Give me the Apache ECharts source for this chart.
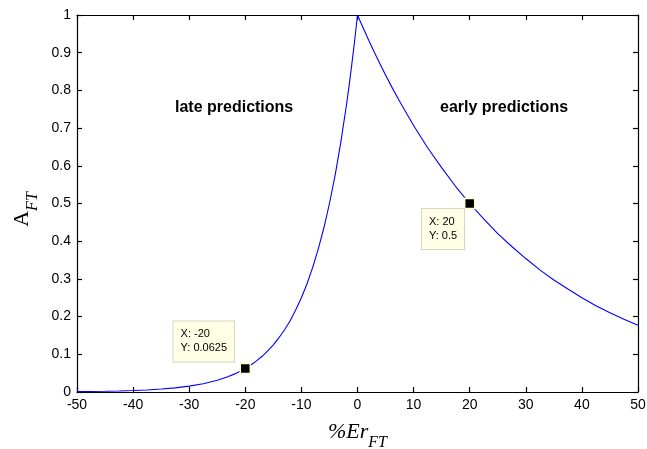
<!DOCTYPE html>
<html><head><meta charset="utf-8">
<script src="https://cdn.jsdelivr.net/npm/echarts@6/dist/echarts.min.js"></script>
<style>html,body{margin:0;padding:0;background:#fff}#c{width:647px;height:449px}</style>
</head><body><div id="c"></div>
<script>
const errX = [-50,-47.5,-45,-42.5,-40,-37.5,-35,-32.5,-30,-27.5,-25,-23,-22,-21,-20,-19,-18,-17,-16,-15,-14,-13,-12,-11,-10,-9,-8,-7,-6,-5,-4,-3,-2,-1.5,-1,-0.5,0,
  0.5,1,2,3,4,5,6,7.5,10,12.5,15,17.5,20,22.5,25,27.5,30,32.5,35,37.5,40,42.5,45,47.5,50];
const aFT = [0.001,0.0014,0.002,0.0028,0.0039,0.0055,0.0078,0.011,0.0156,0.0221,0.0313,0.0412,0.0474,0.0544,0.0625,0.0718,0.0825,0.0947,0.109,0.125,0.144,0.165,0.189,0.218,0.25,0.287,0.33,0.379,0.435,0.5,0.574,0.66,0.758,0.812,0.871,0.933,1,
  0.983,0.966,0.933,0.901,0.871,0.841,0.812,0.771,0.707,0.648,0.595,0.545,0.5,0.459,0.42,0.386,0.354,0.324,0.297,0.273,0.25,0.229,0.21,0.193,0.177];
const tipX = [-20, 20];
const tipY = [0.0625, 0.5];
const xTicks = [-50,-40,-30,-20,-10,0,10,20,30,40,50];
const yTicks = [0,0.1,0.2,0.3,0.4,0.5,0.6,0.7,0.8,0.9,1];
const regionLabels = ['late predictions', 'early predictions'];

const chart = echarts.init(document.getElementById('c'), null, {renderer:'canvas'});
const axisFont = {color:'#000', fontFamily:'Liberation Sans, Arial, sans-serif', fontSize:14};
const lineStyle = {color:'#000', width:1.2};
function baseX(show){ return {
  type:'value', min:-50, max:50, interval:10, position: show?'bottom':'top',
  axisLine:{show:true, onZero:false, lineStyle},
  axisTick:{show:true, inside:true, length:5, lineStyle},
  axisLabel:{show:show, ...axisFont, margin:6},
  splitLine:{show:false}
};}
function baseY(show){ return {
  type:'value', min:0, max:1, interval:0.1, position: show?'left':'right',
  axisLine:{show:true, onZero:false, lineStyle},
  axisTick:{show:true, inside:true, length:5, lineStyle},
  axisLabel:{show:show, ...axisFont, margin:6, formatter: v => String(+v.toFixed(1))},
  splitLine:{show:false}
};}
const serif = 'Liberation Serif, Times New Roman, serif';
const xMain = baseX(true);
xMain.name = '{i|%Er}{s|FT}';
xMain.nameLocation = 'middle';
xMain.nameGap = 22;
xMain.nameTextStyle = {rich:{
  i:{fontFamily:serif, fontStyle:'italic', fontSize:22, color:'#000'},
  s:{fontFamily:serif, fontStyle:'italic', fontSize:16, color:'#000', padding:[21,0,0,0]}
}};
const yMain = baseY(true);
yMain.name = '{a|A}{s|FT}';
yMain.nameLocation = 'middle';
yMain.nameGap = 36;
yMain.nameTextStyle = {padding:[0,12,0,0], rich:{
  a:{fontFamily:serif, fontSize:22, color:'#000'},
  s:{fontFamily:serif, fontStyle:'italic', fontSize:16, color:'#000', padding:[20,0,0,0]}
}};

const tipData = tipX.map((x,i)=>[x, tipY[i]]);
chart.setOption({
  animation:false,
  grid:{left:77, right:9, top:15, bottom:57, containLabel:false, outerBoundsMode:'none'},
  xAxis:[xMain, baseX(false)],
  yAxis:[yMain, baseY(false)],
  series:[
    {type:'line', data: errX.map((x,i)=>[x, aFT[i]]), showSymbol:false, symbol:'none',
     lineStyle:{color:'#0000ff', width:1.1}, z:2},
    {type:'scatter', data: tipData, symbol:'rect', symbolSize:10,
     itemStyle:{color:'#000', borderColor:'#ffffd0', borderWidth:1.5, opacity:1}, z:5,
     label:{show:true, formatter: p => 'X: ' + p.value[0] + '\nY: ' + p.value[1],
       fontFamily:'Liberation Sans, Arial, sans-serif', fontSize:11, color:'#000', lineHeight:14, align:'left',
       backgroundColor:'#ffffe6', borderColor:'#d6d6c4', borderWidth:1, padding:[6,7,6,7],
       position:'left', distance:0},
     labelLayout: p => p.dataIndex === 0 ? {dx:-66, dy:-27} : {dx:-42, dy:25.5}
    }
  ],
  graphic:[
    {type:'text', left:175, top:100, style:{text:regionLabels[0], font:'bold 16px Liberation Sans, Arial, sans-serif', fill:'#000'}},
    {type:'text', left:440, top:100, style:{text:regionLabels[1], font:'bold 16px Liberation Sans, Arial, sans-serif', fill:'#000'}}
  ]
});
</script></body></html>
